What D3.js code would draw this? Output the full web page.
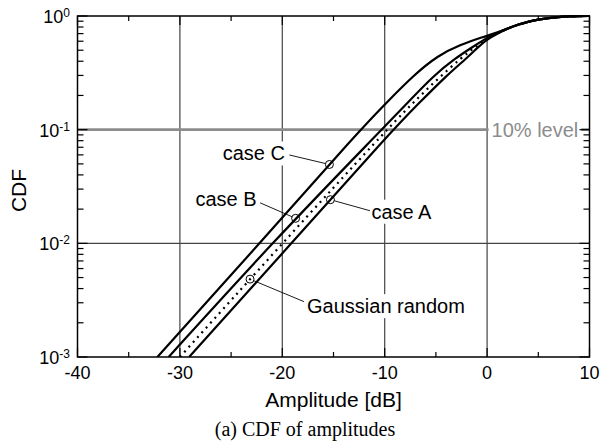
<!DOCTYPE html>
<html>
<head>
<meta charset="utf-8">
<script src="https://cdn.jsdelivr.net/npm/d3@7"></script>
<style>
  body { margin: 0; background: #fff; }
  svg { display: block; }
</style>
</head>
<body>
<svg width="600" height="442"></svg>
<script>
// оси
const xTicks = [-40, -30, -20, -10, 0, 10];
const xMinorTicks = [-35, -25, -15, -5, 5];
const xGrid = [-30, -20, -10, 0];
const yTicks = [1e-3, 1e-2, 1e-1, 1];
const yTickExp = ["-3", "-2", "-1", "0"];
const yGrid = [1e-2];
const level10 = 0.1;

// кривые CDF: [амплитуда дБ, CDF]
const caseC = [[-32.2, 0.001], [-22.2, 0.01], [-12.4, 0.1], [-9.9, 0.17], [-7.2, 0.30],
  [-4.8, 0.45], [-2.65, 0.557], [-0.4, 0.654], [1, 0.715], [2, 0.775], [3, 0.84],
  [4, 0.89], [5, 0.93], [6, 0.96], [7, 0.98], [8, 0.992], [9, 0.998], [10, 1.0]];
const caseB = [[-31.1, 0.001], [-21.05, 0.01], [-10.3, 0.1], [-7.7, 0.175], [-5.2, 0.30],
  [-3.1, 0.425], [-1.4, 0.535], [0, 0.645], [1, 0.71], [2, 0.775], [3, 0.84],
  [4, 0.89], [5, 0.93], [6, 0.96], [7, 0.98], [8, 0.992], [9, 0.998], [10, 1.0]];
const gaussian = [[-30.0, 0.001], [-20.0, 0.01], [-9.8, 0.1], [-7.5, 0.163], [-5.0, 0.271],
  [-2.5, 0.43], [-1.0, 0.548], [0, 0.632], [1, 0.705], [2, 0.775], [3, 0.84],
  [4, 0.89], [5, 0.93], [6, 0.96], [7, 0.98], [8, 0.992], [9, 0.998], [10, 1.0]];
const caseA = [[-29.1, 0.001], [-19.1, 0.01], [-9.2, 0.1], [-6.6, 0.173], [-3.95, 0.30],
  [-2.0, 0.425], [-1.0, 0.52], [0, 0.625], [1, 0.70], [2, 0.775], [3, 0.84],
  [4, 0.89], [5, 0.93], [6, 0.96], [7, 0.98], [8, 0.992], [9, 0.998], [10, 1.0]];

// маркеры с подписями
const markers = [
  {name: "case C", x: -15.4, cdf: 0.0494},
  {name: "case B", x: -18.7, cdf: 0.0166},
  {name: "case A", x: -15.3, cdf: 0.0242},
  {name: "Gaussian random", x: -23.15, cdf: 0.00484}
];

const svg = d3.select("svg");
const area = {left: 77.5, right: 589.5, top: 16, bottom: 357};

const scX = d3.scaleLinear().domain([-40, 10]).range([area.left, area.right]);
const scY = d3.scaleLog().domain([1e-3, 1]).range([area.bottom, area.top]);

// сетка
svg.append("g").selectAll("line")
  .data(xGrid).enter().append("line")
  .attr("x1", d => scX(d)).attr("x2", d => scX(d))
  .attr("y1", area.top).attr("y2", area.bottom)
  .style("stroke", "#444").style("stroke-width", 1.2);

svg.append("g").selectAll("line")
  .data(yGrid).enter().append("line")
  .attr("x1", area.left).attr("x2", area.right)
  .attr("y1", d => scY(d)).attr("y2", d => scY(d))
  .style("stroke", "#444").style("stroke-width", 1.2);

// линия 10%
svg.append("line")
  .attr("x1", area.left).attr("x2", area.right)
  .attr("y1", scY(level10)).attr("y2", scY(level10))
  .style("stroke", "#8c8c8c").style("stroke-width", 2.6);

const font = "'Liberation Sans', Arial, Helvetica, sans-serif";

// подписи-аннотации: смещения от маркера
const labelPos = {
  "case C": {tx: -44.5, ty: -4, anchor: "end", lx: -40, ly: -9.5},
  "case B": {tx: -39, ty: -12.5, anchor: "end", lx: -35.5, ly: -15.5},
  "case A": {tx: 41, ty: 19, anchor: "start", lx: 39.5, ly: 11},
  "Gaussian random": {tx: 57, ty: 34, anchor: "start", lx: 54, ly: 22.5}
};

const labels = svg.append("g");
const labelTexts = [];
markers.forEach(m => {
  const p = labelPos[m.name];
  const t = labels.append("text")
    .attr("x", scX(m.x) + p.tx)
    .attr("y", scY(m.cdf) + p.ty)
    .attr("text-anchor", p.anchor)
    .style("font-family", font).style("font-size", "20px")
    .text(m.name);
  labelTexts.push(t);
});
const levelText = labels.append("text")
  .attr("x", scX(0) + 4.5)
  .attr("y", scY(level10) + 7)
  .style("font-family", font).style("font-size", "20px")
  .style("fill", "#8c8c8c")
  .text("10% level");
labelTexts.push(levelText);

// белый фон под подписями
labelTexts.forEach(t => {
  const b = t.node().getBBox();
  labels.insert("rect", "text")
    .attr("x", b.x - 3).attr("y", b.y - 1)
    .attr("width", b.width + 6).attr("height", b.height + 2)
    .style("fill", "#fff");
});

// кривые
const line = d3.line()
  .x(d => scX(d[0]))
  .y(d => scY(d[1]))
  .curve(d3.curveBasis);

svg.append("clipPath").attr("id", "clip")
  .append("rect")
  .attr("x", area.left).attr("y", area.top - 2)
  .attr("width", area.right - area.left).attr("height", area.bottom - area.top + 2);

const curves = svg.append("g").attr("clip-path", "url(#clip)");
[caseC, caseB, caseA].forEach(data => {
  curves.append("path")
    .attr("d", line(data))
    .style("fill", "none").style("stroke", "#000").style("stroke-width", 2.2);
});
curves.append("path")
  .attr("d", line(gaussian))
  .style("fill", "none").style("stroke", "#000").style("stroke-width", 2.2)
  .style("stroke-dasharray", "2,4.5");

// маркеры и выноски
const r = 4;
markers.forEach(m => {
  const p = labelPos[m.name];
  const cx = scX(m.x), cy = scY(m.cdf);
  svg.append("circle")
    .attr("cx", cx).attr("cy", cy).attr("r", r)
    .style("fill", "none").style("stroke", "#000").style("stroke-width", 1);
  const len = Math.hypot(p.lx, p.ly);
  svg.append("line")
    .attr("x1", cx + p.lx).attr("y1", cy + p.ly)
    .attr("x2", cx + p.lx * r / len).attr("y2", cy + p.ly * r / len)
    .style("stroke", "#000").style("stroke-width", 0.9);
});

// рамка
svg.append("rect")
  .attr("x", area.left).attr("y", area.top)
  .attr("width", area.right - area.left).attr("height", area.bottom - area.top)
  .style("fill", "none").style("stroke", "#000").style("stroke-width", 1.5);

// засечки по X (снизу и сверху, внутрь)
const ticks = svg.append("g").style("stroke", "#000").style("stroke-width", 1.2);
xTicks.concat(xMinorTicks).forEach(v => {
  const len = xTicks.includes(v) ? 9 : 5;
  ticks.append("line").attr("x1", scX(v)).attr("x2", scX(v))
    .attr("y1", area.bottom).attr("y2", area.bottom - len);
  ticks.append("line").attr("x1", scX(v)).attr("x2", scX(v))
    .attr("y1", area.top).attr("y2", area.top + len);
});

// засечки по Y (слева и справа, внутрь)
scY.ticks().forEach(v => {
  const major = yTicks.some(t => Math.abs(t - v) < 1e-9);
  const len = major ? 10 : 6;
  ticks.append("line").attr("x1", area.left).attr("x2", area.left + len)
    .attr("y1", scY(v)).attr("y2", scY(v));
  ticks.append("line").attr("x1", area.right).attr("x2", area.right - len)
    .attr("y1", scY(v)).attr("y2", scY(v));
});

// подписи оси X
svg.append("g").selectAll("text")
  .data(xTicks).enter().append("text")
  .attr("x", d => scX(d))
  .attr("y", area.bottom + 21.5)
  .attr("text-anchor", "middle")
  .style("font-family", font).style("font-size", "18px")
  .text(d => d);

// подписи оси Y: 10^n
yTicks.forEach((v, i) => {
  const t = svg.append("text")
    .attr("x", area.left - 7.5)
    .attr("y", scY(v) + 7)
    .attr("text-anchor", "end")
    .style("font-family", font).style("font-size", "18px");
  t.append("tspan").text("10");
  t.append("tspan").attr("dy", -6).style("font-size", "12px").text(yTickExp[i]);
});

// названия осей
svg.append("text")
  .attr("x", (area.left + area.right) / 2)
  .attr("y", 406.5)
  .attr("text-anchor", "middle")
  .style("font-family", font).style("font-size", "21px")
  .text("Amplitude [dB]");

svg.append("text")
  .attr("transform", `translate(25.5, ${(area.top + area.bottom) / 2 + 4}) rotate(-90)`)
  .attr("text-anchor", "middle")
  .style("font-family", font).style("font-size", "21px")
  .text("CDF");

svg.append("text")
  .attr("x", 305)
  .attr("y", 435.5)
  .attr("text-anchor", "middle")
  .style("font-family", "'Liberation Serif', 'Times New Roman', serif").style("font-size", "20px")
  .text("(a) CDF of amplitudes");
</script>
</body>
</html>
